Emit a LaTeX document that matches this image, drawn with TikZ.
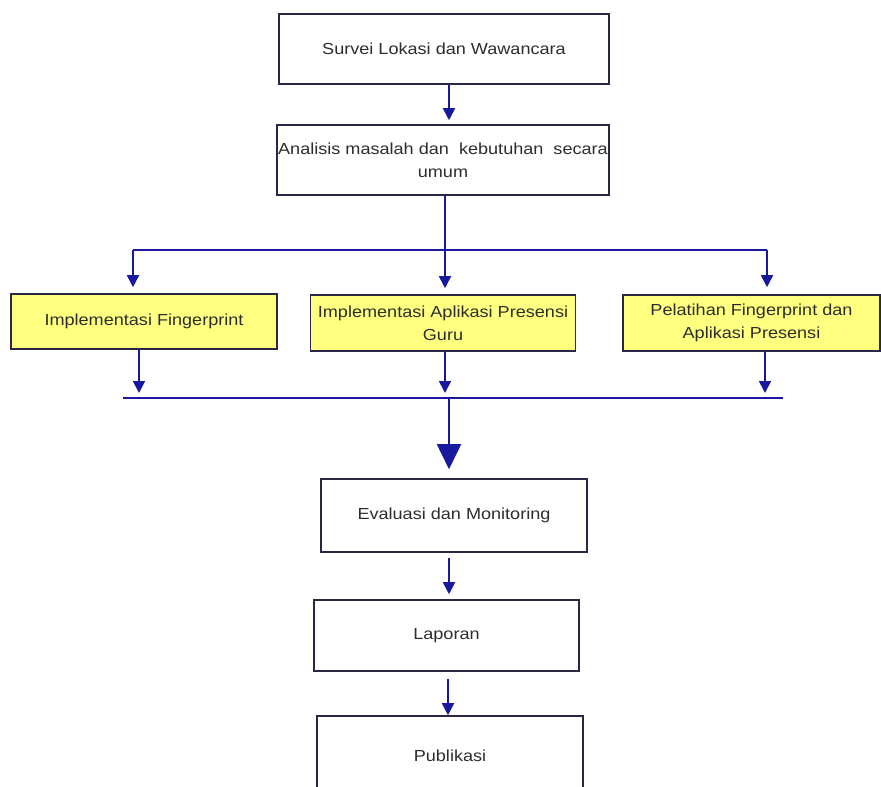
\documentclass[tikz,border=0pt]{standalone}
\usepackage{fontspec}
\setmainfont[FakeStretch=1.13]{Liberation Sans}
\usetikzlibrary{arrows.meta}
\definecolor{bordc}{RGB}{40,40,70}
\definecolor{arrc}{RGB}{25,25,160}
\definecolor{yfill}{RGB}{255,255,128}
\definecolor{txtc}{RGB}{45,45,45}
\tikzset{
  box/.style={draw=bordc, line width=1.6pt, fill=white, inner sep=0pt, align=center,
    text=txtc, font=\fontsize{16}{23}\selectfont},
  ybox/.style={box, fill=yfill},
  arr/.style={draw=arrc, line width=1.8pt, -{Triangle[width=12pt,length=12pt]}},
  bigarr/.style={draw=arrc, line width=1.8pt, -{Triangle[width=24pt,length=25pt]}},
  bline/.style={draw=arrc, line width=1.6pt}
}
\begin{document}
\begin{tikzpicture}[x=1pt,y=-1pt]
\useasboundingbox[fill=white] (0,0) rectangle (881,787);
% boxes
\node[box, minimum width=330pt, minimum height=70pt] (b1) at (444,49) {Survei Lokasi dan Wawancara};
\node[box, minimum width=332pt, minimum height=70pt] (b2) at (443,160) {Analisis masalah dan\ \ kebutuhan\ \ secara\\umum};
\node[ybox, minimum width=266pt, minimum height=55pt] (y1) at (144,321.5) {Implementasi Fingerprint};
\node[ybox, minimum width=265pt, minimum height=56pt] (y2) at (443,323) {Implementasi Aplikasi Presensi\\Guru};
\node[ybox, minimum width=257pt, minimum height=56pt] (y3) at (751.5,323) {Pelatihan Fingerprint dan\\Aplikasi Presensi};
\node[box, minimum width=266pt, minimum height=73pt] (ev) at (454,515.5) {Evaluasi dan Monitoring};
\node[box, minimum width=265pt, minimum height=71pt] (lap) at (446.5,635.5) {Laporan};
\node[box, minimum width=266pt, minimum height=84pt, text depth=0pt] (pub) at (450,758) {\raisebox{5pt}{Publikasi}};
% junction coordinates
\coordinate (j) at (445,250);
\coordinate (jl) at (133,250);
\coordinate (jr) at (767,250);
\coordinate (ml) at (123,398);
\coordinate (mr) at (783,398);
% connectors
\draw[arr, shorten >=4pt] ([xshift=5pt]b1.south) -- ([xshift=6pt]b2.north);
\draw[bline] ([xshift=2pt]b2.south) -- (j);
\draw[bline] (jl) -- (jr);
\draw[arr, shorten >=6pt] (jl) -- (y1.north -| jl);
\draw[arr, shorten >=6pt] (j) -- (y2.north -| j);
\draw[arr, shorten >=7pt] (jr) -- (y3.north -| jr);
\draw[bline] (ml) -- (mr);
\draw[arr, shorten >=5pt] ([xshift=-5pt]y1.south) -- ([xshift=-5pt]y1.south |- ml);
\draw[arr, shorten >=5pt] ([xshift=2pt]y2.south) -- ([xshift=2pt]y2.south |- ml);
\draw[arr, shorten >=5pt] ([xshift=13.5pt]y3.south) -- ([xshift=13.5pt]y3.south |- ml);
\draw[bigarr, shorten >=9pt] ([xshift=-5pt]ev.north |- ml) -- ([xshift=-5pt]ev.north);
\draw[arr, shorten <=5pt, shorten >=5pt] ([xshift=-5pt]ev.south) -- ([xshift=2.5pt]lap.north);
\draw[arr, shorten <=7pt] ([xshift=1.5pt]lap.south) -- ([xshift=-2pt]pub.north);
\end{tikzpicture}
\end{document}
